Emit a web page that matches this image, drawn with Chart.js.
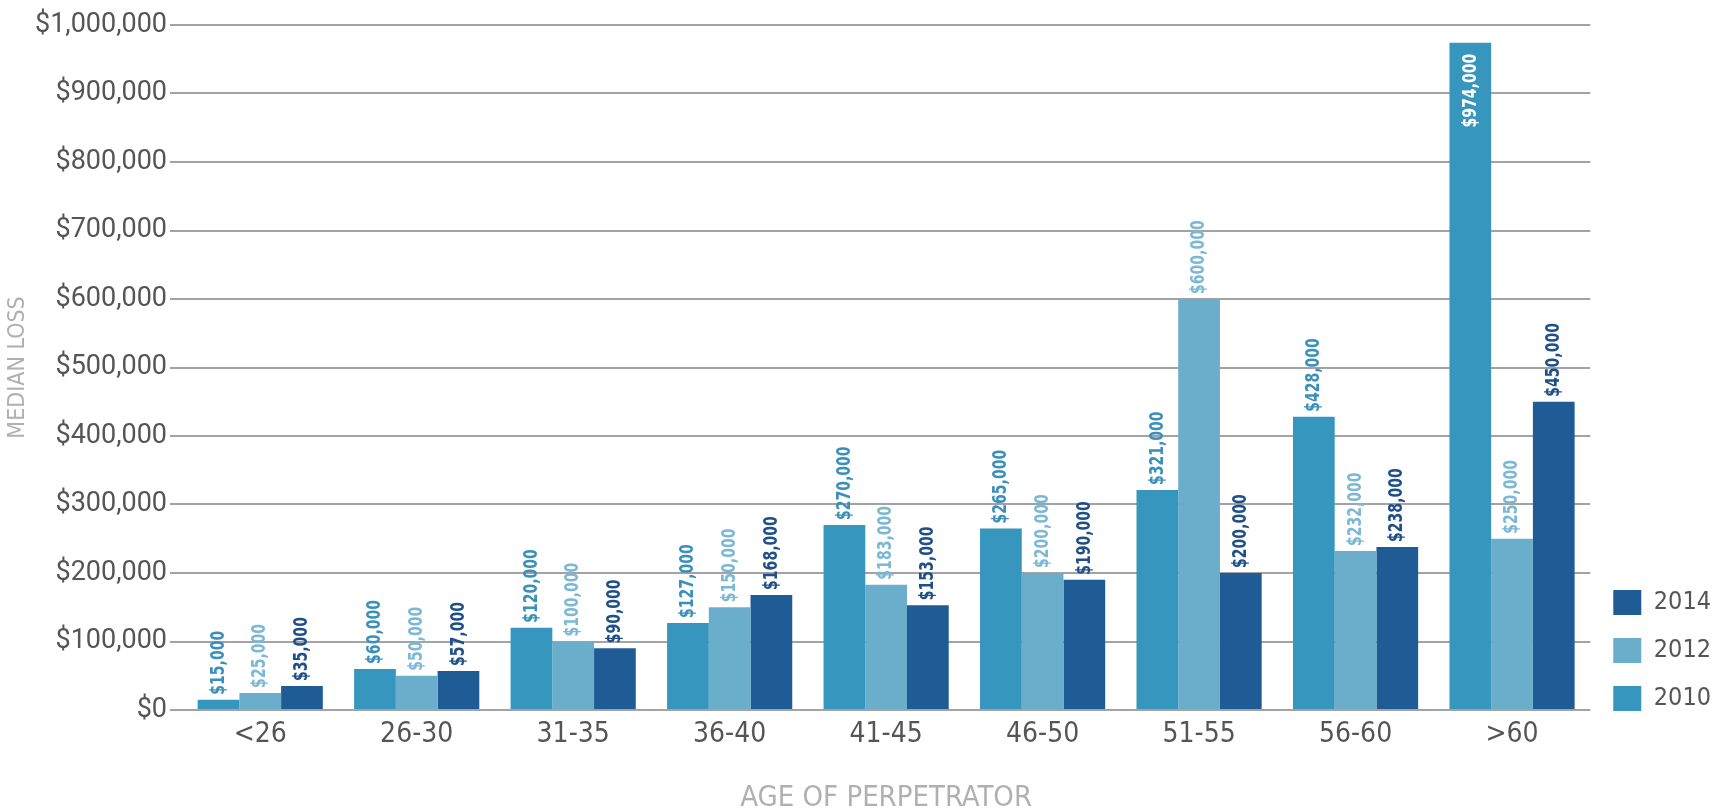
<!DOCTYPE html>
<html lang="en">

<head>
    <meta charset="UTF-8">
    <title>Median Loss by Age of Perpetrator</title>
    <style>
        * {
            margin: 0;
            padding: 0;
            box-sizing: border-box;
        }

        body {
            background-color: #ffffff;
        }

        .chart-box {
            width: 1715px;
            height: 810px;
            position: relative;
        }
    </style>
</head>

<body>
    <div class="chart-box">
        <canvas id="lossChart"></canvas>
    </div>

    <script src="https://cdn.jsdelivr.net/npm/chart.js"></script>
    <script>
        // age bands on the x axis
        const ageGroups = ['<26', '26-30', '31-35', '36-40', '41-45', '46-50', '51-55', '56-60', '>60'];

        // median loss per study year
        const loss2010 = [15000, 60000, 120000, 127000, 270000, 265000, 321000, 428000, 974000];
        const loss2012 = [25000, 50000, 100000, 150000, 183000, 200000, 600000, 232000, 250000];
        const loss2014 = [35000, 57000, 90000, 168000, 153000, 190000, 200000, 238000, 450000];

        const yTicks = [0, 100000, 200000, 300000, 400000, 500000, 600000, 700000, 800000, 900000, 1000000];

        const narrow = '"Liberation Sans Narrow", "DejaVu Sans Condensed", sans-serif';
        const money = v => '$' + v.toLocaleString('en-US');

        // vertical value labels above each bar (inside the bar when it runs out of room)
        const squeeze = 0.78;
        const barLabels = {
            id: 'barLabels',
            afterDatasetsDraw(chart) {
                const ctx = chart.ctx;
                const top = chart.chartArea.top;
                ctx.save();
                ctx.font = 'bold 20px ' + narrow;
                ctx.textBaseline = 'middle';
                chart.data.datasets.forEach((ds, i) => {
                    const meta = chart.getDatasetMeta(i);
                    meta.data.forEach((bar, j) => {
                        const text = money(ds.data[j]);
                        const w = ctx.measureText(text).width * squeeze;
                        ctx.save();
                        if (bar.y - 5 - w < top) {
                            ctx.translate(bar.x, bar.y + 11);
                            ctx.rotate(-Math.PI / 2);
                            ctx.textAlign = 'right';
                            ctx.fillStyle = '#ffffff';
                        } else {
                            ctx.translate(bar.x, bar.y - 5);
                            ctx.rotate(-Math.PI / 2);
                            ctx.textAlign = 'left';
                            ctx.fillStyle = ds.labelColor;
                        }
                        ctx.scale(squeeze, 1);
                        ctx.fillText(text, 0, 0);
                        ctx.restore();
                    });
                });
                ctx.restore();
            }
        };

        // drop the legend down so its last swatch sits on the baseline
        const legendShift = {
            id: 'legendShift',
            afterLayout(chart) {
                if (chart.legend) {
                    chart.legend.top += 24;
                    chart.legend.bottom += 24;
                }
            }
        };

        const ctx = document.getElementById('lossChart').getContext('2d');
        const lossChart = new Chart(ctx, {
            type: 'bar',
            data: {
                labels: ageGroups,
                datasets: [
                    {
                        label: '2010',
                        data: loss2010,
                        backgroundColor: '#3796be',
                        labelColor: '#3a90bb'
                    },
                    {
                        label: '2012',
                        data: loss2012,
                        backgroundColor: '#6baecc',
                        labelColor: '#7cb8d5'
                    },
                    {
                        label: '2014',
                        data: loss2014,
                        backgroundColor: '#1f5c96',
                        labelColor: '#1f4f88'
                    }
                ]
            },
            options: {
                responsive: true,
                maintainAspectRatio: false,
                animation: false,
                layout: {
                    padding: { top: 25, right: -6, bottom: 0, left: 0 }
                },
                datasets: {
                    bar: {
                        categoryPercentage: 0.8,
                        barPercentage: 1.0,
                        borderWidth: 0
                    }
                },
                plugins: {
                    tooltip: { enabled: false },
                    legend: {
                        position: 'right',
                        align: 'end',
                        fullSize: false,
                        reverse: true,
                        labels: {
                            boxWidth: 28,
                            boxHeight: 25,
                            padding: 23,
                            color: '#555555',
                            font: { family: '"DejaVu Sans Condensed", sans-serif', size: 25 }
                        }
                    }
                },
                scales: {
                    x: {
                        grid: { display: false },
                        border: { display: false },
                        ticks: {
                            color: '#555555',
                            padding: 0,
                            font: { family: narrow, size: 28 }
                        },
                        title: {
                            display: true,
                            text: 'AGE OF PERPETRATOR',
                            color: '#b0b0b0',
                            padding: 0,
                            font: { family: narrow, size: 29, lineHeight: 0.8 }
                        },
                        afterFit(scale) {
                            scale.height = 100;
                        }
                    },
                    y: {
                        min: 0,
                        max: 1000000,
                        grid: {
                            color: '#a3a3a3',
                            lineWidth: 2,
                            tickLength: 12
                        },
                        border: { display: false },
                        afterBuildTicks(scale) {
                            scale.ticks = yTicks.map(v => ({ value: v }));
                        },
                        ticks: {
                            color: '#555555',
                            padding: 3,
                            font: { family: 'Roboto, sans-serif', size: 27 },
                            callback: v => money(v)
                        },
                        title: {
                            display: true,
                            text: 'MEDIAN LOSS',
                            color: '#b0b0b0',
                            padding: { top: 4, bottom: 0 },
                            font: { family: narrow, size: 23 }
                        },
                        afterFit(scale) {
                            scale.width = 182;
                        }
                    }
                }
            },
            plugins: [barLabels, legendShift]
        });
    </script>
</body>

</html>
